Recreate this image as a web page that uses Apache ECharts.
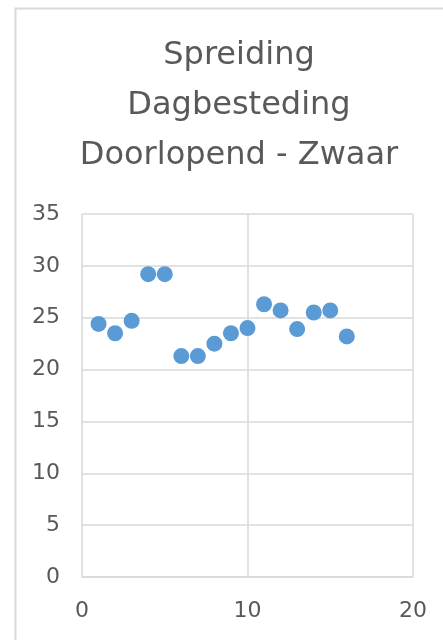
<!DOCTYPE html>
<html>
<head>
<meta charset="utf-8">
<script src="https://cdn.jsdelivr.net/npm/echarts@6/dist/echarts.min.js"></script>
<style>
  html, body { margin: 0; padding: 0; background: #fff; }
  #chart { width: 443px; height: 640px; }
</style>
</head>
<body>
<div id="chart"></div>
<script>
  // values
  const xValues = [1, 2, 3, 4, 5, 6, 7, 8, 9, 10, 11, 12, 13, 14, 15, 16];
  const yValues = [24.4, 23.5, 24.7, 29.2, 29.2, 21.3, 21.3, 22.5, 23.5, 24.0, 26.3, 25.7, 23.9, 25.5, 25.7, 23.2];
  const titleLines = ['Spreiding', 'Dagbesteding', 'Doorlopend - Zwaar'];
  const xTicks = { min: 0, max: 20, interval: 10 };
  const yTicks = { min: 0, max: 35, interval: 5 };

  const points = xValues.map((x, i) => [x, yValues[i]]);
  const gridColor = '#d9d9d9';
  const textColor = '#595959';
  const fontFamily = '"DejaVu Sans", sans-serif';

  const chart = echarts.init(document.getElementById('chart'), null, { renderer: 'canvas' });
  const option = {
    animation: false,
    backgroundColor: '#fff',
    graphic: [{
      type: 'rect',
      left: 13,
      top: 6,
      shape: { width: 500, height: 700 },
      style: { fill: 'none', stroke: gridColor, lineWidth: 2 },
      z: -1
    }],
    title: {
      text: titleLines.join('\n'),
      left: 234,
      top: 26,
      textAlign: 'center',
      textStyle: {
        color: textColor,
        fontFamily: fontFamily,
        fontSize: 32,
        fontWeight: 'normal',
        lineHeight: 50
      }
    },
    grid: {
      left: 82,
      right: 30,
      top: 214,
      bottom: 63,
      containLabel: false
    },
    xAxis: {
      type: 'value',
      min: xTicks.min,
      max: xTicks.max,
      interval: xTicks.interval,
      axisLine: { show: true, lineStyle: { color: gridColor, width: 1.5 } },
      axisTick: { show: false },
      axisLabel: { color: textColor, fontFamily: fontFamily, fontSize: 22, margin: 23 },
      splitLine: { show: true, lineStyle: { color: gridColor, width: 1.5 } }
    },
    yAxis: {
      type: 'value',
      min: yTicks.min,
      max: yTicks.max,
      interval: yTicks.interval,
      axisLine: { show: false },
      axisTick: { show: false },
      axisLabel: { color: textColor, fontFamily: fontFamily, fontSize: 22, margin: 22 },
      splitLine: { show: true, lineStyle: { color: gridColor, width: 1.5 } }
    },
    series: [{
      type: 'scatter',
      data: points,
      symbol: 'circle',
      symbolSize: 16,
      itemStyle: { color: '#5b9bd5', opacity: 1 }
    }]
  };
  option && chart.setOption(option);
</script>
</body>
</html>
